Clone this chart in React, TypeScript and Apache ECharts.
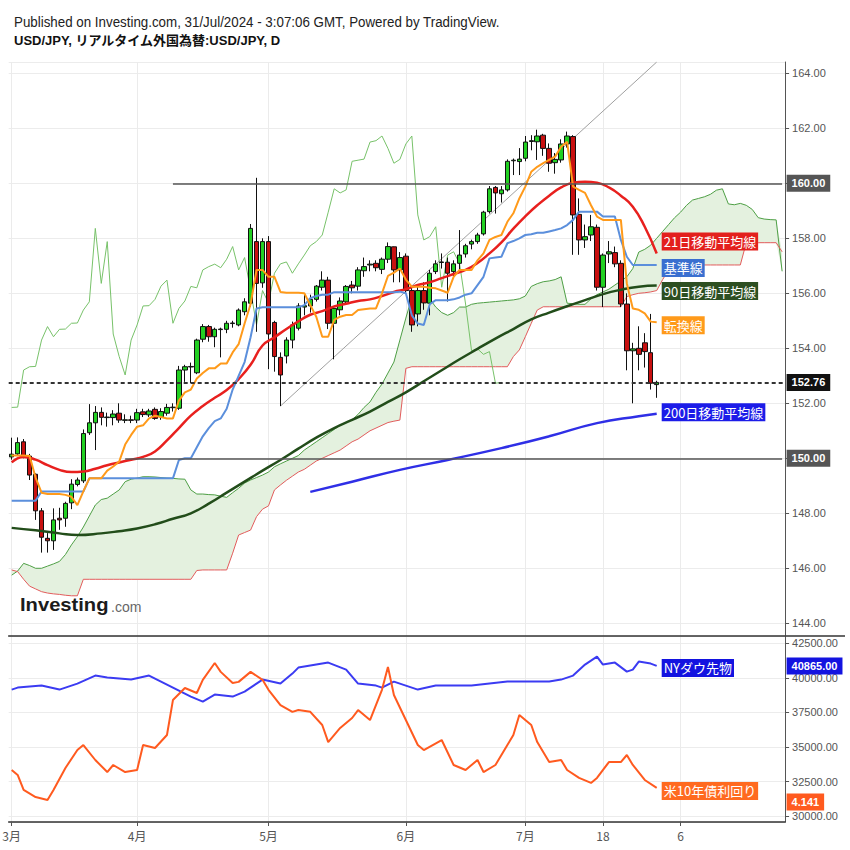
import React, { useEffect, useRef } from "react";
import * as echarts from "echarts";

// ---------- categories ----------
const N_CATS = 130;
function makeDates(): string[] {
  const out: string[] = [];
  const d = new Date(Date.UTC(2024, 2, 1));
  while (out.length < N_CATS) {
    const wd = d.getUTCDay();
    if (wd !== 0 && wd !== 6) out.push(d.toISOString().slice(0, 10));
    d.setUTCDate(d.getUTCDate() + 1);
  }
  return out;
}
const dates = makeDates();
const xLabelIdx = [0, 21, 43, 66, 86, 99, 112];
const xLabelText = ["3月", "4月", "5月", "6月", "7月", "18", "6"];

// ---------- USD/JPY daily candles (Mar 1 - Jul 31) ----------
const opens = [150.05,150.16,150.60,150.08,149.42,148.09,147.09,147.00,147.82,147.82,
148.38,149.05,149.18,150.93,151.29,151.67,151.48,151.48,151.64,151.38,
151.40,151.39,151.69,151.58,151.78,151.51,151.64,151.84,151.82,153.21,
153.32,153.11,154.33,154.79,154.42,154.68,154.69,154.90,154.85,155.33,
155.64,157.88,156.38,157.88,154.94,153.67,153.72,154.30,154.73,155.50,
155.54,155.78,156.22,156.48,154.91,155.40,155.69,156.30,156.26,156.82,
157.03,157.09,156.87,157.24,157.69,156.85,157.35,156.10,155.25,156.10,
155.64,156.79,157.12,157.13,156.79,157.09,157.43,157.79,157.88,158.16,
158.97,159.85,159.62,159.76,160.82,160.79,160.91,161.52,161.51,161.75,
161.27,160.75,160.85,161.43,161.70,158.87,157.94,158.12,158.40,156.22,
157.43,157.48,157.09,155.61,153.91,154.00,154.20,153.84,152.68];
const closes = [150.15,150.57,150.08,149.39,148.09,147.13,147.00,147.76,147.76,148.36,
149.06,149.21,150.90,151.29,151.67,151.49,151.50,151.61,151.39,151.40,
151.38,151.66,151.59,151.72,151.45,151.70,151.85,151.86,153.21,153.33,
153.34,154.30,154.79,154.42,154.69,154.70,154.91,154.92,155.39,155.69,
158.36,156.36,157.88,154.52,153.70,153.03,154.30,154.85,155.54,155.55,
155.78,156.26,156.48,154.91,155.45,155.72,156.25,156.20,156.85,156.97,
157.06,156.93,157.24,157.70,156.85,157.30,156.10,154.85,156.10,155.65,
156.73,157.07,157.14,156.73,157.07,157.39,157.73,157.88,158.12,158.95,
159.80,159.65,159.76,160.80,160.84,160.88,161.50,161.55,161.72,161.27,
160.73,160.87,161.43,161.72,158.85,157.94,158.06,158.42,156.22,157.39,
157.51,157.07,155.61,153.91,153.98,153.78,153.88,152.73,152.76];
const lows = [149.95,150.08,150.00,149.21,147.76,146.57,146.57,146.67,147.40,147.51,
148.15,148.98,149.10,150.85,150.30,151.20,151.15,151.20,151.29,151.28,
151.28,151.28,151.50,151.50,151.40,151.40,151.55,151.70,151.76,152.78,
152.73,153.06,154.22,154.24,154.04,153.67,154.55,154.75,154.80,155.20,
155.50,154.60,156.20,153.24,153.15,151.90,153.45,154.00,154.65,155.20,
155.30,155.70,156.10,154.70,153.60,155.20,155.60,156.00,156.10,156.60,
156.80,156.80,156.70,157.10,156.40,156.40,156.00,154.60,154.80,155.40,
155.20,156.70,156.90,155.70,156.60,156.80,157.30,157.60,157.80,158.10,
158.90,158.90,159.30,159.70,160.30,160.30,160.80,161.20,160.85,161.00,
160.42,160.35,160.75,161.30,157.40,157.40,157.65,157.90,156.10,155.50,
157.10,156.95,155.50,153.20,152.00,153.20,153.30,152.50,152.20];
const highs = [150.75,150.76,150.70,150.16,149.45,148.19,147.28,148.18,148.20,148.42,
149.24,149.30,151.05,151.97,151.90,151.85,151.66,151.75,152.00,151.60,
151.55,151.80,151.80,151.80,151.85,151.82,151.98,152.00,153.36,153.40,
153.48,154.35,154.88,154.85,154.75,154.75,155.00,155.00,155.45,155.82,
158.52,160.20,158.00,158.08,155.00,153.85,154.40,154.97,155.64,155.95,
155.95,156.30,156.80,156.60,155.50,155.85,156.30,156.45,156.95,157.30,
157.20,157.20,157.30,157.85,157.70,157.50,157.45,156.20,156.30,156.40,
156.85,157.20,157.45,157.30,157.20,158.30,157.80,157.95,158.20,159.00,
159.90,159.90,159.90,160.87,160.90,161.28,161.72,161.75,161.95,161.80,
161.45,161.10,161.60,161.88,161.75,159.45,158.50,158.85,158.50,157.45,
157.90,157.70,157.20,156.00,154.20,154.80,154.55,155.25,152.82];

// ---------- Ichimoku ----------
const tenkan = [150.1,150.1,150.1,150.08,149.3,148.75,148.7,148.7,148.7,148.67,
148.6,148.3,148.8,149.27,149.27,149.27,149.55,149.7,149.88,150.5,
150.85,151.15,151.2,151.45,151.55,151.5,151.45,151.45,152.1,152.4,
152.5,152.9,153.1,153.27,153.27,153.45,153.45,153.85,154.15,154.9,
155.6,156.85,156.85,156.6,156.6,156.05,156.02,156.02,156.02,156.0,
155.57,155.15,154.42,154.42,155.03,155.15,155.21,155.21,155.39,155.42,
155.45,155.45,156.0,156.63,156.75,156.9,156.5,156.24,156.24,156.24,
156.2,156.18,156.1,156.02,156.6,156.85,156.85,156.85,157.2,157.45,
157.94,158.05,158.12,158.6,158.91,159.45,159.88,160.42,160.6,160.73,
160.85,160.97,161.33,161.51,159.88,159.76,159.65,159.2,158.79,158.67,
158.67,158.67,158.67,156.36,155.45,155.4,155.27,154.97,154.95];
const kijun = [148.46,148.46,148.46,148.46,148.46,148.79,148.79,148.79,148.79,148.79,
148.79,148.79,148.79,149.27,149.27,149.27,149.27,149.27,149.27,149.27,
149.27,149.27,149.27,149.27,149.27,149.27,149.27,149.27,149.94,150.0,
150.0,150.4,150.8,151.1,151.35,151.45,151.8,152.5,153.0,153.5,
154.4,155.45,155.49,155.49,155.49,155.49,155.49,155.49,155.49,155.57,
155.82,155.9,155.95,155.95,156.04,156.04,156.04,156.04,156.04,156.04,
156.04,156.04,156.04,156.04,156.04,156.06,156.0,155.2,154.9,154.85,
155.6,155.75,155.75,155.75,155.78,155.85,155.95,156.0,156.3,156.6,
157.27,157.3,157.33,157.82,157.9,158.0,158.12,158.15,158.2,158.2,
158.25,158.3,158.36,158.48,158.67,158.97,158.97,158.97,158.97,158.79,
158.79,158.79,157.94,157.33,157.03,157.03,157.03,157.03,157.03];
const spanA = [145.75,145.9,146.18,146.1,146.0,146.0,146.08,146.16,146.25,146.5,
146.85,147.15,147.5,147.9,148.3,148.5,148.55,148.7,148.85,149.15,
149.24,149.28,149.33,149.33,149.32,149.3,149.28,149.27,149.25,149.24,
148.85,148.7,148.7,148.68,148.67,148.62,148.58,148.75,148.91,149.1,
149.21,149.3,149.39,149.5,149.69,149.8,149.9,150.0,150.1,150.3,
150.45,150.6,150.75,150.9,151.05,151.2,151.3,151.4,151.6,151.85,
152.05,152.4,152.7,153.1,153.5,154.3,155.1,155.85,156.06,156.1,
155.8,155.5,155.3,155.2,155.3,155.5,155.5,155.6,155.64,155.66,
155.68,155.7,155.72,155.74,155.76,155.8,155.9,156.25,156.35,156.42,
156.45,156.5,156.6,155.64,155.62,155.6,155.6,155.8,155.95,156.05,
156.15,156.3,156.45,156.6,156.9,157.5,157.6,157.75,158.0,158.25,
158.5,158.75,158.95,159.2,159.39,159.45,159.51,159.6,159.75,159.8,
159.25,159.22,159.27,159.2,159.05,158.75,158.7,158.68,158.67,156.8];
const spanB = [145.94,145.88,145.6,145.35,145.25,145.15,145.1,145.07,145.05,145.02,
145.0,145.0,145.6,145.6,145.6,145.6,145.6,145.6,145.6,145.6,
145.6,145.6,145.6,145.6,145.6,145.6,145.6,145.6,145.6,145.6,
145.6,145.92,145.94,145.94,145.94,145.94,145.94,146.55,147.21,147.3,
147.39,147.88,148.15,148.27,148.85,149.03,149.2,149.35,149.5,149.6,
149.75,149.9,150.0,150.1,150.2,150.3,150.45,150.6,150.7,150.85,
151.0,151.1,151.2,151.3,151.35,151.39,153.27,153.33,153.33,153.33,
153.33,153.33,153.33,153.33,153.33,153.33,153.33,153.33,153.33,153.33,
153.33,153.33,153.33,153.33,153.7,153.94,154.42,154.91,155.39,155.51,
155.51,155.51,155.51,155.51,155.51,155.51,155.51,155.51,155.51,155.51,
155.51,155.51,155.51,155.88,155.95,156.0,156.02,156.05,156.1,156.5,
156.85,157.03,157.03,157.03,157.03,157.03,157.03,157.03,157.03,157.03,
157.03,157.03,157.03,157.84,157.84,157.84,157.84,157.84,157.84,157.51];

// ---------- moving averages (read at sample bars) ----------
const ma21: [number, number][] = [[0,149.85],[2,150.05],[4,149.95],[6,149.75],[8,149.58],[10,149.5],[12,149.52],[14,149.62],[16,149.75],[18,149.85],[20,149.95],[22,150.05],[24,150.25],[26,150.65],[28,151.1],[30,151.55],[32,151.9],[34,152.2],[36,152.48],[38,152.88],[40,153.4],[42,154.1],[44,154.4],[46,154.7],[48,154.98],[50,155.22],[52,155.35],[54,155.52],[56,155.62],[58,155.72],[60,155.78],[62,155.9],[64,156.05],[66,156.15],[68,156.3],[70,156.4],[72,156.55],[74,156.7],[76,156.85],[78,157.1],[80,157.45],[82,157.85],[84,158.35],[86,158.8],[88,159.2],[90,159.55],[92,159.85],[94,160.02],[96,160.06],[98,160.02],[100,159.85],[102,159.55],[104,159.15],[106,158.42],[108,157.45]];
const ma90: [number, number][] = [[0,147.47],[4,147.38],[8,147.27],[11,147.21],[15,147.27],[18,147.35],[21,147.45],[24,147.6],[27,147.8],[30,148.0],[33,148.35],[36,148.75],[39,149.15],[42,149.55],[45,149.94],[48,150.35],[51,150.75],[54,151.1],[57,151.4],[60,151.7],[63,152.05],[66,152.4],[69,152.8],[72,153.2],[75,153.6],[78,153.98],[81,154.35],[84,154.7],[87,155.05],[90,155.3],[93,155.53],[96,155.75],[99,155.97],[102,156.13],[105,156.24],[108,156.28]];
const ma200: [number, number][] = [[50,148.78],[57,149.15],[65,149.58],[73,149.94],[82,150.37],[90,150.8],[98,151.28],[105,151.53],[108,151.62]];
const trendPts: [number, number][] = [[45,151.9],[108,164.41]];

// ---------- lower panel ----------
const dowPts: [number, number][] = [[0,39155],[1,39300],[5,39444],[8,39155],[11,39588],[14,40166],[16,40022],[20,39877],[23,40166],[27,39300],[30,38649],[32,38288],[34,38793],[37,38649],[39,39010],[41,39588],[42,39877],[45,39588],[47,40311],[48,40745],[51,40961],[53,41106],[56,40600],[58,39588],[61,39444],[62,39300],[64,39733],[67,39300],[68,39155],[71,39444],[73,39444],[77,39444],[80,39588],[83,39733],[87,39733],[90,39733],[92,39877],[94,40166],[96,40961],[98,41539],[99,40961],[101,41106],[103,40455],[104,40600],[105,41178],[107,41034],[108,40865]];
const yieldPts: [number, number][] = [[0,4.229],[1,4.207],[2,4.141],[4,4.11],[6,4.097],[7,4.141],[9,4.238],[11,4.317],[12,4.339],[14,4.273],[16,4.22],[17,4.251],[19,4.22],[21,4.229],[22,4.339],[24,4.326],[26,4.383],[27,4.537],[29,4.59],[31,4.568],[32,4.626],[34,4.70],[35,4.661],[37,4.612],[38,4.617],[40,4.661],[42,4.626],[43,4.582],[45,4.515],[47,4.485],[48,4.493],[50,4.485],[52,4.427],[53,4.352],[55,4.414],[57,4.458],[58,4.493],[60,4.449],[62,4.582],[63,4.683],[64,4.559],[66,4.449],[68,4.339],[69,4.317],[72,4.361],[74,4.251],[76,4.229],[78,4.273],[79,4.22],[81,4.251],[83,4.339],[84,4.383],[85,4.471],[87,4.427],[88,4.352],[90,4.264],[92,4.273],[93,4.229],[95,4.194],[97,4.172],[98,4.194],[100,4.264],[102,4.264],[103,4.295],[104,4.251],[106,4.185],[108,4.15]];

const lastPrice = 152.76;
const dowLast = 40865;
const yieldLast = 4.141;

const FONT = '"Liberation Sans", Arial, sans-serif';
const JFONT = '"Noto Sans CJK JP", "Liberation Sans", sans-serif';

const toCat = (pts: [number, number][]) => pts.map(([i, v]) => [dates[i], v]);

function endLbl(text: string, bg: string, dy: number) {
  return {
    show: true,
    formatter: text,
    color: "#fff",
    backgroundColor: bg,
    padding: [2, 2, 1, 2],
    fontSize: 13,
    lineHeight: 15,
    fontFamily: JFONT,
    distance: 5,
    offset: [0, dy],
  };
}
function tag(text: string, bg: string, dist: number, dy = 0) {
  return {
    show: true,
    position: "end",
    formatter: text,
    color: "#fff",
    opacity: 1,
    backgroundColor: bg,
    fontWeight: "bold",
    fontSize: 11,
    fontFamily: FONT,
    padding: [3, 5, 3, 5],
    distance: dist,
    offset: [0, dy],
  };
}
const hiddenLine = { color: "rgba(0,0,0,0)", width: 0.01, type: "solid" };

function buildOption(): any {
  const candleData = opens.map((o, i) => [o, closes[i], lows[i], highs[i]]);
  const cloudLow = spanA.map((a, i) => Math.min(a, spanB[i]));
  const cloudDiff = spanA.map((a, i) => Math.abs(a - spanB[i]));
  const chikou = closes.slice(26).map((c, i) => [dates[i], c]);
  const vGrid = xLabelIdx.map((i) => ({ xAxis: dates[i] }));
  const gridLineMark = {
    silent: true,
    symbol: "none",
    z: 0,
    label: { show: false },
    lineStyle: { color: "#ebebeb", width: 1, type: "solid" },
    data: vGrid,
  };
  const lineBase = { type: "line", symbol: "none", silent: true, xAxisIndex: 0, yAxisIndex: 0 };

  return {
    animation: false,
    backgroundColor: "#fff",
    grid: [
      { left: 8.7, top: 62, width: 776.4, height: 574, outerBoundsMode: "none" },
      { left: 8.7, top: 636, width: 776.4, height: 186, outerBoundsMode: "none" },
    ],
    xAxis: [
      {
        type: "category", gridIndex: 0, data: dates, boundaryGap: true,
        axisLine: { show: true, lineStyle: { color: "#333", width: 1.5 } },
        axisTick: { show: false }, axisLabel: { show: false }, splitLine: { show: false },
      },
      {
        type: "category", gridIndex: 1, data: dates, boundaryGap: true,
        axisLine: { show: true, lineStyle: { color: "#333", width: 1.5 } },
        axisTick: { show: true, alignWithLabel: true, length: 4, lineStyle: { color: "#555" },
          interval: (idx: number) => xLabelIdx.includes(idx) },
        axisLabel: {
          interval: (idx: number) => xLabelIdx.includes(idx),
          formatter: (_v: string, idx: number) => xLabelText[xLabelIdx.indexOf(idx)] ?? "",
          color: "#555", fontSize: 12, fontFamily: JFONT, margin: 7,
        },
        splitLine: { show: false },
      },
    ],
    yAxis: [
      {
        type: "value", gridIndex: 0, position: "right", scale: true,
        min: 143.538, max: 164.411, minInterval: 2, maxInterval: 2, splitNumber: 10,
        axisLine: { show: true, lineStyle: { color: "#555" } },
        axisTick: { show: true, length: 4, lineStyle: { color: "#555" } },
        axisLabel: { formatter: (v: number) => v.toFixed(2), color: "#555", fontSize: 11, fontFamily: FONT,
          margin: 7, showMinLabel: false, showMaxLabel: false },
        splitLine: { show: true, lineStyle: { color: "#ececec" } },
      },
      {
        type: "value", gridIndex: 1, position: "right", scale: true,
        min: 29588, max: 43027, minInterval: 2500, maxInterval: 2500, splitNumber: 5,
        axisLine: { show: true, lineStyle: { color: "#555" } },
        axisTick: { show: true, length: 4, lineStyle: { color: "#555" } },
        axisLabel: { formatter: (v: number) => v.toFixed(2), color: "#555", fontSize: 11, fontFamily: FONT,
          margin: 7, showMinLabel: false, showMaxLabel: false },
        splitLine: { show: true, lineStyle: { color: "#ececec" } },
      },
      { type: "value", gridIndex: 1, min: 4.0, max: 4.819, show: false, scale: true },
    ],
    series: [
      { ...lineBase, name: "cloudBase", data: cloudLow.map((v, i) => [dates[i], v]), stack: "cloud",
        lineStyle: { width: 0, opacity: 0 }, z: 1, markLine: gridLineMark },
      { ...lineBase, name: "cloudFill", data: cloudDiff.map((v, i) => [dates[i], v]), stack: "cloud",
        lineStyle: { width: 0, opacity: 0 }, areaStyle: { color: "#e4f1df", opacity: 1 }, z: 1 },
      { ...lineBase, name: "spanA", data: spanA.map((v, i) => [dates[i], v]), lineStyle: { color: "#4e9f45", width: 1 }, z: 2 },
      { ...lineBase, name: "spanB", data: spanB.map((v, i) => [dates[i], v]), lineStyle: { color: "#e25c5c", width: 1 }, z: 2 },
      { ...lineBase, name: "chikou", data: chikou, lineStyle: { color: "#78c26a", width: 1 }, z: 2 },
      { ...lineBase, name: "trend", data: toCat(trendPts), lineStyle: { color: "#a0a0a0", width: 1 }, z: 2 },
      {
        type: "candlestick", name: "USDJPY", xAxisIndex: 0, yAxisIndex: 0, data: candleData, barWidth: 5, z: 3,
        silent: true,
        itemStyle: { color: "#22d022", color0: "#c81010", borderColor: "#111", borderColor0: "#111", borderWidth: 1 },
        markLine: {
          silent: true, symbol: "none",
          data: [
            [ { coord: [dates[27], 160], lineStyle: { color: "#555", width: 1.5, type: "solid" }, label: tag("160.00", "#555", 4.5) },
              { coord: [dates[129], 160] } ],
            [ { coord: [dates[19], 150], lineStyle: { color: "#555", width: 1.5, type: "solid" }, label: tag("150.00", "#555", 4.5) },
              { coord: [dates[129], 150] } ],
            { yAxis: lastPrice, lineStyle: { color: "#333", width: 2, type: [4, 3] }, label: tag(lastPrice.toFixed(2), "#111", 1.5) },
          ],
        },
      },
      { ...lineBase, name: "ma200", data: toCat(ma200), smooth: true, lineStyle: { color: "#2f2fe6", width: 2.5 }, z: 4,
        endLabel: endLbl("200日移動平均線", "#1c1ce8", -1.5) },
      { ...lineBase, name: "ma90", data: toCat(ma90), smooth: true, lineStyle: { color: "#224d1a", width: 2.5 }, z: 4,
        endLabel: endLbl("90日移動平均線", "#2d4f22", 5.5) },
      { ...lineBase, name: "ma21", data: toCat(ma21), smooth: true, lineStyle: { color: "#e8201e", width: 2.5 }, z: 4,
        endLabel: endLbl("21日移動平均線", "#e3201d", -12) },
      { ...lineBase, name: "kijun", data: kijun.map((v, i) => [dates[i], v]), lineStyle: { color: "#5b8fdc", width: 2 }, z: 4,
        endLabel: endLbl("基準線", "#3a6fd0", 3) },
      { ...lineBase, name: "tenkan", data: tenkan.map((v, i) => [dates[i], v]), lineStyle: { color: "#ff9a1a", width: 2 }, z: 4,
        endLabel: endLbl("転換線", "#ff9a1a", 3) },
      // lower panel
      { type: "line", symbol: "none", silent: true, xAxisIndex: 1, yAxisIndex: 1, data: [], markLine: gridLineMark, z: 0 },
      { type: "line", name: "dow", symbol: "none", silent: true, xAxisIndex: 1, yAxisIndex: 1, data: toCat(dowPts),
        lineStyle: { color: "#3b3bf2", width: 2 }, z: 4,
        endLabel: endLbl("NYダウ先物", "#1313e0", 2),
        markLine: { silent: true, symbol: "none",
          data: [{ yAxis: dowLast, lineStyle: hiddenLine, label: tag(dowLast.toFixed(2), "#1313e0", 1.5) }] } },
      { type: "line", name: "yield", symbol: "none", silent: true, xAxisIndex: 1, yAxisIndex: 2, data: toCat(yieldPts),
        lineStyle: { color: "#ff5a1f", width: 2 }, z: 4,
        endLabel: endLbl("米10年債利回り", "#ff6a1f", 3),
        markLine: { silent: true, symbol: "none",
          data: [{ yAxis: yieldLast, lineStyle: hiddenLine, label: tag(yieldLast.toFixed(3), "#ff5a1f", 1.5, 11.7) }] } },
    ],
    graphic: [
      { type: "text", x: 14, y: 22, scaleX: 0.89, silent: true,
        style: { text: "Published on Investing.com, 31/Jul/2024 - 3:07:06 GMT, Powered by TradingView.",
          font: `15px ${FONT}`, fill: "#222", verticalAlign: "middle", textVerticalAlign: "middle" } },
      { type: "text", x: 14, y: 40.5, scaleX: 1.0, silent: true,
        style: { text: "USD/JPY, リアルタイム外国為替:USD/JPY, D",
          font: `bold 13px "Liberation Sans", "Noto Sans CJK JP", sans-serif`, fill: "#111", verticalAlign: "middle", textVerticalAlign: "middle" } },
      { type: "text", x: 20, y: 604.5, scaleX: 1.12, silent: true, z: 10,
        style: { text: "Investing", font: `bold 18px ${FONT}`, fill: "#1b1b1b", verticalAlign: "middle", textVerticalAlign: "middle" } },
      { type: "text", x: 111, y: 607, silent: true, z: 10,
        style: { text: ".com", font: `14px ${FONT}`, fill: "#666", verticalAlign: "middle", textVerticalAlign: "middle" } },
      { type: "line", silent: true, shape: { x1: 785, y1: 636, x2: 845, y2: 636 }, style: { stroke: "#333", lineWidth: 1.5 } },
    ],
  };
}

export default function App() {
  const ref = useRef<HTMLDivElement>(null);
  useEffect(() => {
    const chart = echarts.init(ref.current!, null, { renderer: "svg" });
    chart.setOption(buildOption());
    return () => chart.dispose();
  }, []);
  return (
    <div
      ref={ref}
      style={{ position: "fixed", left: 0, top: 0, width: 850, height: 850, background: "#fff" }}
    />
  );
}
